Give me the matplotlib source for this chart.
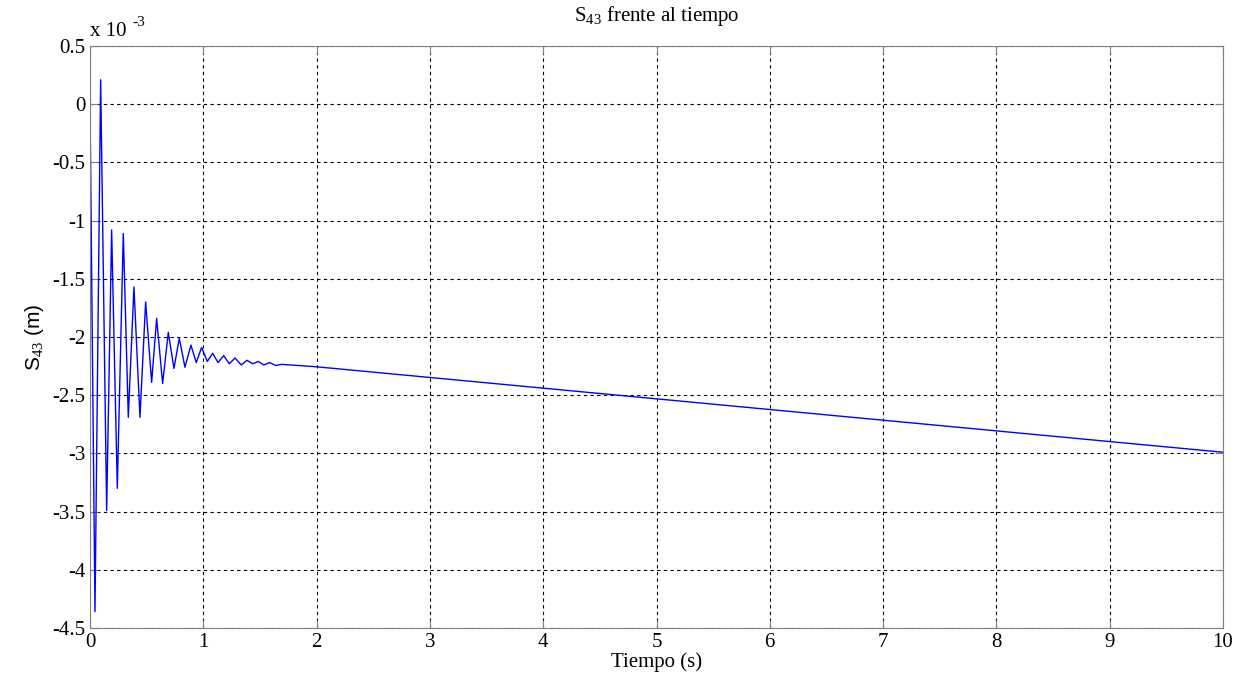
import matplotlib
matplotlib.use("Agg")
import matplotlib.pyplot as plt
from matplotlib.ticker import FuncFormatter

# extrema of the displacement (units of 1e-3 m)
tiempo = [0, 0.044, 0.094, 0.147, 0.191, 0.241, 0.294, 0.338, 0.388, 0.441,
          0.491, 0.544, 0.588, 0.641, 0.691, 0.741, 0.788, 0.838, 0.891, 0.938,
          0.985, 1.035, 1.083, 1.13, 1.18, 1.23, 1.28, 1.335, 1.385, 1.435,
          1.485, 1.535, 1.585, 1.64, 1.69, 2.0, 10.0]
s43 = [0, -4.36, 0.21, -3.49, -1.08, -3.30, -1.11, -2.69, -1.57, -2.69,
       -1.70, -2.39, -1.84, -2.40, -1.96, -2.27, -2.01, -2.26, -2.07, -2.22,
       -2.09, -2.21, -2.14, -2.22, -2.16, -2.23, -2.18, -2.24, -2.20, -2.23,
       -2.21, -2.24, -2.22, -2.245, -2.235, -2.256, -2.99]

xticks = list(range(0, 11))
yticks = [0.5, 0, -0.5, -1, -1.5, -2, -2.5, -3, -3.5, -4, -4.5]

plt.rcParams['font.family'] = ['Liberation Serif', 'DejaVu Serif']
plt.rcParams['mathtext.fontset'] = 'custom'
plt.rcParams['mathtext.rm'] = 'Liberation Serif'
plt.rcParams['axes.unicode_minus'] = False

fig = plt.figure(figsize=(12.52, 6.84), dpi=100)
ax = fig.add_axes([90 / 1252, 56 / 684, 1133 / 1252, 582 / 684])

ax.plot(tiempo, s43, color='#0000ff', linewidth=1.0)

ax.set_xlim(0, 10)
ax.set_ylim(-4.5, 0.5)
ax.set_xticks(xticks)
ax.set_yticks(yticks)
ax.yaxis.set_major_formatter(FuncFormatter(lambda v, p: ('%g' % v)))
ax.grid(True, color='black', linestyle=(0, (3, 3)), linewidth=0.8)
ax.tick_params(direction='in', labelsize=15, length=6, color='#808080',
               top=True, right=True)
for sp in ax.spines.values():
    sp.set_color('#808080')

ax.set_title(r'S$_{\mathrm{43}}$ frente al tiempo', fontsize=15, pad=18)
ax.set_xlabel('Tiempo (s)', fontsize=15, labelpad=0)
ax.set_ylabel(r'S$_{43}$ (m)', fontsize=15, family='Liberation Sans', labelpad=4)
ax.text(0, 1.008, 'x 10', transform=ax.transAxes, fontsize=15,
        va='bottom', ha='left')
ax.text(0.0375, 1.03, '-3', transform=ax.transAxes, fontsize=11,
        va='bottom', ha='left')

fig.savefig('out.png', dpi=100)
